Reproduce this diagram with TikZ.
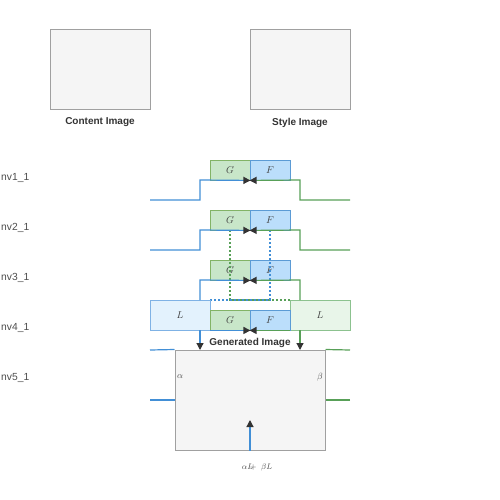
\documentclass[tikz,border=0pt]{standalone}
\usepackage{fontspec}
\setsansfont{Liberation Sans}
\usetikzlibrary{arrows.meta}
\definecolor{lblue}{RGB}{66,143,214}
\definecolor{lgreen}{RGB}{88,160,88}
\definecolor{gfill}{HTML}{C8E6C9}
\definecolor{gdraw}{HTML}{82B366}
\definecolor{ffill}{HTML}{BBDEFB}
\definecolor{fdraw}{HTML}{5B9BD5}
\definecolor{lbfill}{HTML}{E3F2FD}
\definecolor{lbdraw}{HTML}{7FB2E5}
\definecolor{lgfill}{HTML}{E8F5E9}
\definecolor{lgdraw}{HTML}{8CC28F}
\definecolor{imgfill}{HTML}{F5F5F5}
\definecolor{imgdraw}{HTML}{A0A0A0}
\definecolor{tipc}{HTML}{333333}
\begin{document}
\begin{tikzpicture}[x=1pt,y=-1pt,
  imgbox/.style={draw=imgdraw,fill=imgfill,line width=1pt,minimum width=100pt,minimum height=80pt,inner sep=0pt},
  genbox/.style={draw=imgdraw,fill=imgfill,line width=1pt,minimum width=150pt,minimum height=100pt,inner sep=0pt},
  caption/.style={font=\sffamily\bfseries\fontsize{10}{12}\selectfont,text=black!80},
  rowlbl/.style={font=\sffamily\fontsize{10.3}{12}\selectfont,text=black!70,anchor=west,inner sep=0pt},
  boxtxt/.style={font=\fontsize{10}{12}\selectfont,text=black!75},
  gbox/.style={draw=gdraw,fill=gfill,line width=0.9pt,minimum width=40pt,minimum height=20pt,inner sep=0pt,boxtxt},
  fbox/.style={draw=fdraw,fill=ffill,line width=0.9pt,minimum width=40pt,minimum height=20pt,inner sep=0pt,boxtxt},
  lbbox/.style={draw=lbdraw,fill=lbfill,line width=0.9pt,minimum width=60pt,minimum height=30pt,inner sep=0pt,boxtxt},
  lgbox/.style={draw=lgdraw,fill=lgfill,line width=0.9pt,minimum width=60pt,minimum height=30pt,inner sep=0pt,boxtxt},
  bl/.style={draw=lblue,line width=1.2pt},
  gr/.style={draw=lgreen,line width=1.2pt},
  tip/.style={-{Triangle[length=7pt,width=7pt,color=tipc]}},
  dotb/.style={draw=lblue,line width=1.2pt,dash pattern=on 2pt off 2pt},
  dotg/.style={draw=lgreen,line width=1.2pt,dash pattern=on 2pt off 2pt},
  mathlbl/.style={font=\fontsize{9}{10}\selectfont,text=black!70,inner sep=0pt}
]
\useasboundingbox (0,0) rectangle (500,500);
% input images
\node[imgbox] (content) at (100,70) {};
\node[caption] (contentlbl) at (100,122.5) {Content Image};
\node[imgbox] (style) at (300,70) {};
\node[caption] (stylelbl) at (300,122.5) {Style Image};
% row labels
\node[rowlbl] (nv1) at (1,177.5) {nv1\_1};
\node[rowlbl] (nv2) at (1,227.5) {nv2\_1};
\node[rowlbl] (nv3) at (1,277.5) {nv3\_1};
\node[rowlbl] (nv4) at (1,327.5) {nv4\_1};
\node[rowlbl] (nv5) at (1,377.5) {nv5\_1};
% generated
\node[genbox] (gen) at (250,400) {};
% dotted guides
\coordinate (dg1) at (230,300);
\coordinate (dg2) at (290,300);
\coordinate (db1) at (270,300);
\coordinate (db2) at (210,300);
% row 1..3 coordinates
\foreach \i/\cy in {1/170,2/220,3/270}{
  \coordinate (bs\i) at (150,\cy+30);
  \coordinate (bk\i) at (200,\cy+10);
  \coordinate (gs\i) at (350,\cy+30);
  \coordinate (gk\i) at (300,\cy+10);
}
\node[gbox] (G1) at (230,170) {$G$};
\node[fbox] (F1) at (270,170) {$F$};
\node[gbox] (G2) at (230,220) {$G$};
\node[fbox] (F2) at (270,220) {$F$};
\node[gbox] (G3) at (230,270) {$G$};
\node[fbox] (F3) at (270,270) {$F$};
% dotted from row 2
\draw[dotg] (G2.south) -- (dg1) -- (dg2);
\draw[dotb] (F2.south) -- (db1) -- (db2);
% L boxes
\node[lbbox] (Ll) at (180,315) {$L$};
\node[lgbox] (Lr) at (320,315) {$L$};
\node[gbox] (G4) at (230,320) {$G$};
\node[fbox] (F4) at (270,320) {$F$};
% row 1, 2 connectors
\draw[bl,tip] (bs1) -| (bk1) -- (G1.south east);
\draw[gr,tip] (gs1) -| (gk1) -- (F1.south west);
\draw[bl,tip] (bs2) -| (bk2) -- (G2.south east);
\draw[gr,tip] (gs2) -| (gk2) -- (F2.south west);
% row 3 connectors from L boxes
\coordinate (l3b) at (200,300);
\coordinate (l3g) at (300,300);
\draw[bl,tip] (l3b) -- (bk3) -- (G3.south east);
\draw[gr,tip] (l3g) -- (gk3) -- (F3.south west);
% row 4
\draw[bl,tip] (Ll.south east) -- (G4.south east);
\draw[gr,tip] (Lr.south west) -- (F4.south west);
\node[caption] (genlbl) at (250,342.5) {Generated Image};
% arrows into generated
\coordinate (lb4) at (200,330);
\coordinate (gb4) at (200,350);
\coordinate (lg4) at (300,330);
\coordinate (gg4) at (300,350);
\draw[bl,tip] (lb4) -- (gb4);
\draw[gr,tip] (lg4) -- (gg4);
% side lines row 5
\coordinate (s1) at (150,350);
\coordinate (s2) at (150,400);
\coordinate (s3) at (350,350);
\coordinate (s4) at (350,400);
\draw[bl] (s1) -- (gen.north west);
\draw[bl] (s2) -- (gen.west);
\draw[gr] (s3) -- (gen.north east);
\draw[gr] (s4) -- (gen.east);
\node[mathlbl] (alpha) at (180,377) {$\alpha$};
\node[mathlbl] (beta) at (320,377) {$\beta$};
\coordinate (gin) at (250,420);
\draw[bl,tip] (gen.south) -- (gin);
\node[mathlbl,font=\fontsize{8}{9}\selectfont] (sum) at (257,467) {$\alpha L\mkern-11mu+\ \beta L$};
\end{tikzpicture}
\end{document}
